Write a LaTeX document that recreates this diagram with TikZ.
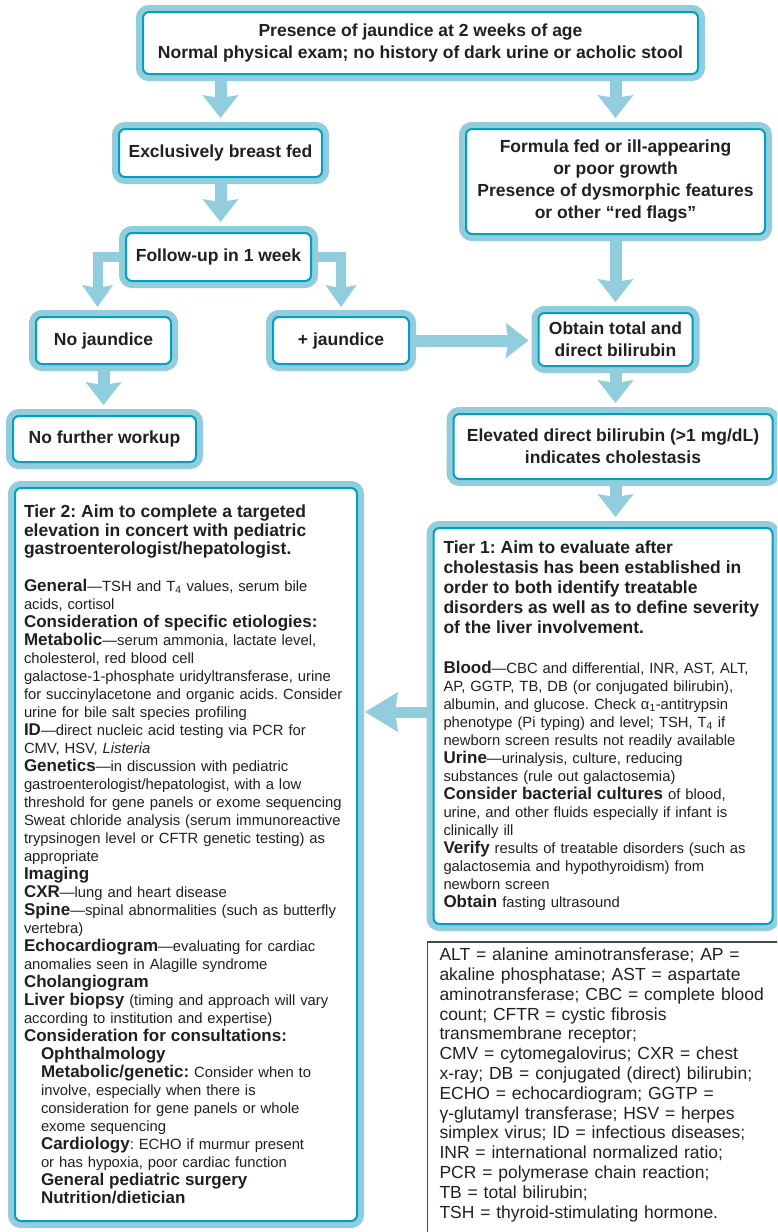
\documentclass[tikz,border=0pt]{standalone}
\usepackage{fontspec}
\setmainfont{Liberation Sans}
\usetikzlibrary{arrows.meta,positioning,backgrounds}
\definecolor{bandblue}{RGB}{146,205,221}
\definecolor{boxline}{RGB}{0,160,190}
\definecolor{inktext}{RGB}{35,31,32}
\definecolor{keyline}{RGB}{70,70,70}
\newcommand{\lead}[1]{{\fontsize{17}{18}\selectfont\bfseries #1}}
\newcommand{\tierhead}[2]{{\fontsize{17.5}{#1}\selectfont\bfseries #2\par}}
\frenchspacing
\hyphenpenalty=10000

\begin{document}
\begin{tikzpicture}[
    x=1pt, y=-1pt,
    flowbox/.style={rectangle, rounded corners=6pt, draw=boxline, line width=2pt, fill=white,
                    outer sep=0pt, inner sep=3pt, align=center, text=inktext,
                    font=\fontsize{17.5}{22}\selectfont\bfseries,
                    preaction={draw=bandblue, line width=14pt}},
    tierbox/.style={flowbox, align=left, inner xsep=10pt, font=\fontsize{14.8}{18}\selectfont},
    keybox/.style={rectangle, outer sep=0pt, align=left, text=inktext,
                   inner xsep=12pt, inner ysep=6pt, font=\fontsize{17.5}{19.8}\selectfont},
    keyframe/.style={draw=keyline, line width=1.3pt},
    fatarr/.style={draw=bandblue, line width=12pt, shorten >=11pt,
                   -{Stealth[length=23pt, width=36pt, inset=3pt, line width=0pt]}},
    thinarr/.style={fatarr, line width=10pt, shorten >=10pt,
                    -{Stealth[length=22pt, width=31pt, inset=3pt, line width=0pt]}}
]
\useasboundingbox (0,0) rectangle (777,1232);
\clip (0,0) rectangle (777,1232);

\node[flowbox, minimum width=555pt, minimum height=62pt] (jaun) at (420.5,43)
  {Presence of jaundice at 2 weeks of age\\Normal physical exam; no history of dark urine or acholic stool};
\node[flowbox, minimum width=203pt, minimum height=48pt, below=55pt of jaun.south, xshift=-200pt] (bf) {Exclusively breast fed};
\node[flowbox, minimum width=299pt, minimum height=105pt, below=55pt of jaun.south, xshift=195pt] (ff)
  {Formula fed or ill-appearing\\or poor growth\\Presence of dysmorphic features\\or other “red flags”};
\node[flowbox, minimum width=185pt, minimum height=48pt, below=56pt of bf, xshift=-2pt] (fu) {Follow-up in 1 week};
\node[flowbox, minimum width=135pt, minimum height=47pt, below=36pt of fu, xshift=-115pt] (nj) {No jaundice};
\node[flowbox, minimum width=136pt, minimum height=47pt, right=102pt of nj] (pj) {+ jaundice};
\node[flowbox, minimum width=154pt, minimum height=53pt, below=79pt of ff] (ob) {Obtain total and\\direct bilirubin};
\node[flowbox, minimum width=183pt, minimum height=46pt, below=52pt of nj, xshift=1pt] (nfw) {No further workup};
\node[flowbox, minimum width=319pt, minimum height=65pt, below=48pt of ob, xshift=-2.5pt] (el)
  {Elevated direct bilirubin (>1 mg/dL)\\indicates cholestasis};

% tier 1 work-up
\node[tierbox, text width=319pt, minimum height=396pt, below=49pt of el, xshift=-10pt] (t1) {%
\tierhead{20}{Tier 1: Aim to evaluate after\\
cholestasis has been established in\\
order to both identify treatable\\
disorders as well as to define severity\\
of the liver involvement.}
\vspace{22pt}
\lead{Blood}—CBC and differential, INR, AST, ALT,\\
AP, GGTP, TB, DB (or conjugated bilirubin),\\
albumin, and glucose. Check α\textsubscript{1}-antitrypsin\\
phenotype (Pi typing) and level; TSH, T\textsubscript{4} if\\
newborn screen results not readily available\\
\lead{Urine}—urinalysis, culture, reducing\\
substances (rule out galactosemia)\\
\lead{Consider bacterial cultures} of blood,\\
urine, and other fluids especially if infant is\\
clinically ill\\
\lead{Verify} results of treatable disorders (such as\\
galactosemia and hypothyroidism) from\\
newborn screen\\
\lead{Obtain} fasting ultrasound};

% tier 2 work-up
\node[tierbox, inner xsep=9pt, text width=324pt, minimum height=733pt, below=26pt of nfw, xshift=81.5pt] (t2) {%
\tierhead{18.5}{Tier 2: Aim to complete a targeted\\
elevation in concert with pediatric\\
gastroenterologist/hepatologist.}
\vspace{19pt}
\lead{General}—TSH and T\textsubscript{4} values, serum bile\\
acids, cortisol\\
\lead{Consideration of specific etiologies:}\\
\lead{Metabolic}—serum ammonia, lactate level,\\
cholesterol, red blood cell\\
galactose-1-phosphate uridyltransferase, urine\\
for succinylacetone and organic acids. Consider\\
urine for bile salt species profiling\\
\lead{ID}—direct nucleic acid testing via PCR for\\
CMV, HSV, \textit{Listeria}\\
\lead{Genetics}—in discussion with pediatric\\
gastroenterologist/hepatologist, with a low\\
threshold for gene panels or exome sequencing\\
Sweat chloride analysis (serum immunoreactive\\
trypsinogen level or CFTR genetic testing) as\\
appropriate\\
\lead{Imaging}\\
\lead{CXR}—lung and heart disease\\
\lead{Spine}—spinal abnormalities (such as butterfly\\
vertebra)\\
\lead{Echocardiogram}—evaluating for cardiac\\
anomalies seen in Alagille syndrome\\
\lead{Cholangiogram}\\
\lead{Liver biopsy} (timing and approach will vary\\
according to institution and expertise)\\
\lead{Consideration for consultations:}\\
\hspace*{17pt}\lead{Ophthalmology}\\
\hspace*{17pt}\lead{Metabolic/genetic:} Consider when to\\
\hspace*{17pt}involve, especially when there is\\
\hspace*{17pt}consideration for gene panels or whole\\
\hspace*{17pt}exome sequencing\\
\hspace*{17pt}\lead{Cardiology}: ECHO if murmur present\\
\hspace*{17pt}or has hypoxia, poor cardiac function\\
\hspace*{17pt}\lead{General pediatric surgery}\\
\hspace*{17pt}\lead{Nutrition/dietician}};

% abbreviations
\node[keybox, text width=345pt, below=18pt of t1.south west, anchor=north west, xshift=-6pt] (key) {%
ALT = alanine aminotransferase; AP =\\
akaline phosphatase; AST = aspartate\\
aminotransferase; CBC = complete blood\\
count; CFTR = cystic fibrosis\\
transmembrane receptor;\\
CMV = cytomegalovirus; CXR = chest\\
x-ray; DB = conjugated (direct) bilirubin;\\
ECHO = echocardiogram; GGTP =\\
γ-glutamyl transferase; HSV = herpes\\
simplex virus; ID = infectious diseases;\\
INR = international normalized ratio;\\
PCR = polymerase chain reaction;\\
TB = total bilirubin;\\
TSH = thyroid-stimulating hormone.};
\draw[keyframe] (key.north west) rectangle ([shift={(30pt,-30pt)}]key.south east);

\begin{scope}[on background layer]
\draw[fatarr] (jaun.south -| bf.north) -- (bf.north);
\draw[fatarr] (jaun.south -| ff.north) -- (ff.north);
\draw[fatarr] (bf.south) -- (bf.south |- fu.north);
\draw[thinarr] (fu.west) -| ([xshift=-6pt]nj.north);
\draw[thinarr] (fu.east) -| (pj.north);
\draw[fatarr] (nj.south) -- (nj.south |- nfw.north);
\draw[fatarr, shorten >=10pt] (pj.east) -- (pj.east -| ob.west);
\draw[fatarr] (ff.south) -- (ob.north);
\draw[fatarr] (ob.south) -- (ob.south |- el.north);
\draw[fatarr] (ob.south |- el.south) -- (ob.south |- t1.north);
\draw[fatarr, shorten >=8pt, line width=11pt, -{Stealth[length=33pt, width=40pt, inset=3pt, line width=0pt]}]
  ([yshift=14pt]t1.west) -- ([yshift=14pt]t1.west -| t2.east);
\end{scope}
\end{tikzpicture}
\end{document}
